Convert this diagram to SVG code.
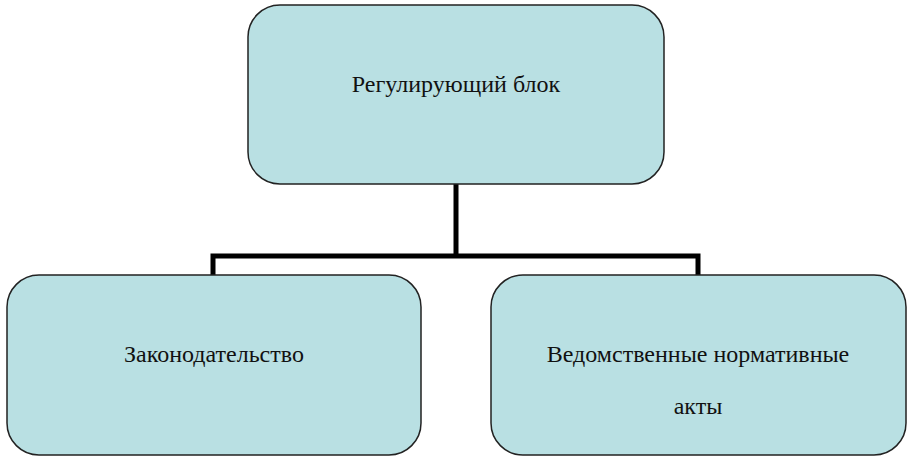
<svg xmlns="http://www.w3.org/2000/svg" width="913" height="461" viewBox="0 0 913 461">
<style>
.box{fill:#b9e0e3;stroke:#222;stroke-width:1.5}
.t{font-family:"Liberation Serif",serif;font-size:24px;fill:#111;text-anchor:middle}
.c{fill:none;stroke:#000;stroke-width:5}
</style>
<rect width="913" height="461" fill="#fff"/>
<g id="connectors">
<path class="c" d="M456 184V256M213 275V256H698V275"/>
</g>
<g id="top"><rect class="box" x="248" y="5" width="416" height="179" rx="32"/><text class="t" x="456" y="92">Регулирующий блок</text></g>
<g id="left"><rect class="box" x="7" y="275" width="414" height="180" rx="32"/><text class="t" x="214" y="362">Законодательство</text></g>
<g id="right"><rect class="box" x="491" y="275" width="415" height="180" rx="32"/><text class="t" x="698" y="362">Ведомственные нормативные</text><text class="t" x="698" y="414">акты</text></g>
</svg>
